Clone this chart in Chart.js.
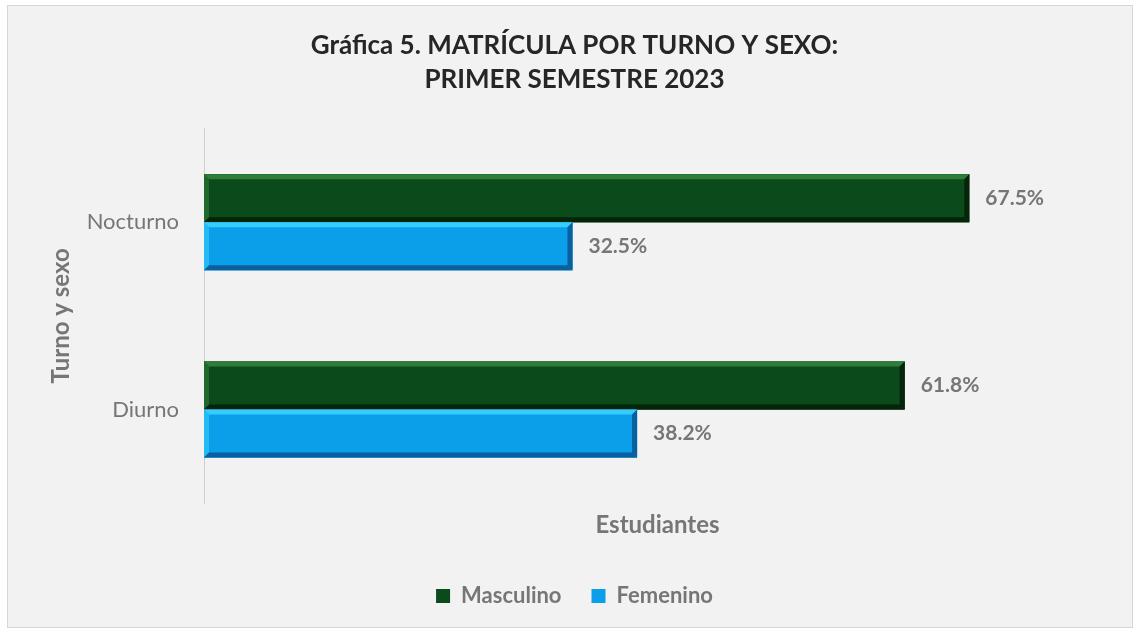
<!DOCTYPE html>
<html>
<head>
<meta charset="utf-8">
<script src="https://cdn.jsdelivr.net/npm/chart.js@4.4.0/dist/chart.umd.min.js"></script>
<style>
  html, body { margin: 0; padding: 0; background: #fff; }
  .frame {
    position: absolute; left: 7px; top: 5px;
    width: 1124px; height: 621px;
    background: #f2f2f2; border: 1px solid #d6d6d6;
  }
  canvas { display: block; }
</style>
</head>
<body>
<div class="frame"><canvas id="chart" width="1124" height="621"></canvas></div>
<script>
const turnos = ['Nocturno', 'Diurno'];
const masculino = [67.5, 61.8];
const femenino = [32.5, 38.2];
const serieNombres = ['Masculino', 'Femenino'];

const FONT = 'Lato, "Open Sans", sans-serif';
const GRIS = '#767676';

// colores para el efecto biselado: [cuerpo, luz, sombra]
const paleta = [
  ['#0b4a1b', '#2f7d3b', '#052408'],
  ['#0a9fe8', '#36cdfb', '#0a5f9e']
];

// bisel encima de cada barra, usando las posiciones que calcula Chart.js
const bevelPlugin = {
  id: 'bevel',
  afterDatasetsDraw(chart) {
    const ctx = chart.ctx;
    chart.data.datasets.forEach((ds, i) => {
      const meta = chart.getDatasetMeta(i);
      const [body, light, dark] = paleta[i];
      meta.data.forEach((bar) => {
        const l = bar.base, r = bar.x;
        const t = bar.y - bar.height / 2, b = bar.y + bar.height / 2;
        const d = 5;
        ctx.save();
        ctx.fillStyle = body;
        ctx.fillRect(l, t, r - l, b - t);
        // arriba
        ctx.fillStyle = light;
        ctx.beginPath();
        ctx.moveTo(l, t); ctx.lineTo(r, t); ctx.lineTo(r - d, t + d); ctx.lineTo(l + d, t + d);
        ctx.fill();
        // izquierda
        ctx.globalAlpha = 0.6;
        ctx.beginPath();
        ctx.moveTo(l, t); ctx.lineTo(l + d, t + d); ctx.lineTo(l + d, b - d); ctx.lineTo(l, b);
        ctx.fill();
        ctx.globalAlpha = 1;
        // abajo y derecha
        ctx.fillStyle = dark;
        ctx.beginPath();
        ctx.moveTo(l, b); ctx.lineTo(r, b); ctx.lineTo(r - d, b - d); ctx.lineTo(l + d, b - d);
        ctx.fill();
        ctx.beginPath();
        ctx.moveTo(r, t); ctx.lineTo(r, b); ctx.lineTo(r - d, b - d); ctx.lineTo(r - d, t + d);
        ctx.fill();
        ctx.restore();
      });
    });
  }
};

const etiquetasPlugin = {
  id: 'etiquetas',
  afterDatasetsDraw(chart) {
    const ctx = chart.ctx;
    ctx.save();
    ctx.font = 'bold 21px ' + FONT;
    ctx.fillStyle = GRIS;
    ctx.textBaseline = 'middle';
    chart.data.datasets.forEach((ds, i) => {
      chart.getDatasetMeta(i).data.forEach((bar, j) => {
        ctx.fillText(ds.data[j].toFixed(1) + '%', bar.x + 16, bar.y);
      });
    });
    ctx.restore();
  }
};

new Chart(document.getElementById('chart'), {
  type: 'bar',
  data: {
    labels: turnos,
    datasets: [
      { label: serieNombres[0], data: masculino, backgroundColor: paleta[0][0] },
      { label: serieNombres[1], data: femenino, backgroundColor: paleta[1][0] }
    ]
  },
  options: {
    indexAxis: 'y',
    responsive: false,
    animation: false,
    layout: { padding: { left: 30, right: 21, top: 0, bottom: 10 } },
    datasets: { bar: { barPercentage: 1, categoryPercentage: 0.513 } },
    scales: {
      x: {
        min: 0,
        max: 80,
        ticks: { display: false },
        grid: { display: false, drawTicks: false },
        border: { display: false },
        title: {
          display: true, text: 'Estudiantes', color: GRIS,
          font: { family: FONT, size: 24, weight: 'bold' },
          padding: { top: 8, bottom: 15 }
        }
      },
      y: {
        afterFit(scale) { scale.width = 166; },
        ticks: { color: GRIS, font: { family: FONT, size: 22 }, padding: 25 },
        grid: { display: false, drawTicks: false },
        border: { display: true, color: '#d0d0d0' },
        title: {
          display: true, text: 'Turno y sexo', color: GRIS,
          font: { family: FONT, size: 24, weight: 'bold' },
          padding: { top: 9, bottom: 12 }
        }
      }
    },
    plugins: {
      title: {
        display: true,
        text: ['Gráfica 5. MATRÍCULA POR TURNO Y SEXO:', 'PRIMER SEMESTRE 2023'],
        color: '#262626',
        font: { family: FONT, size: 26, weight: 'bold', lineHeight: 1.3 },
        padding: { top: 23, bottom: 32 }
      },
      legend: {
        position: 'bottom',
        labels: {
          color: GRIS,
          font: { family: FONT, size: 22, weight: 'bold' },
          boxWidth: 14, boxHeight: 14, padding: 30
        }
      },
      tooltip: { enabled: false }
    }
  },
  plugins: [bevelPlugin, etiquetasPlugin]
});
</script>
</body>
</html>
